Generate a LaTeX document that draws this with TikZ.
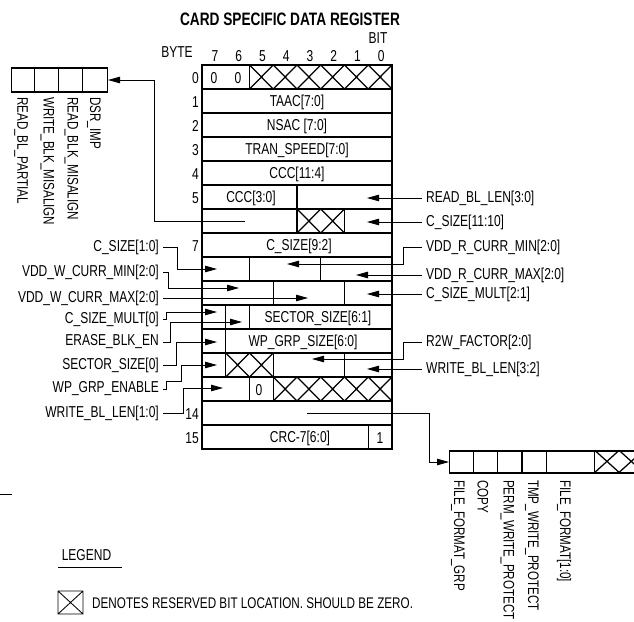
\documentclass[tikz,border=0pt]{standalone}
\usepackage{fontspec}
\setmainfont{Liberation Sans}[FakeStretch=0.76]
\usetikzlibrary{arrows.meta,positioning,calc}

\tikzset{
  txt/.style={font=\fontsize{15.8}{16}\selectfont,inner sep=0pt},
  llbl/.style={txt,anchor=east,inner xsep=4pt},
  rlbl/.style={txt,anchor=west,inner xsep=4pt},
  vlbl/.style={txt,font=\fontsize{15.3}{16}\selectfont,rotate=-90,anchor=west},
  reg/.style={line width=1.25pt},
  wire/.style={line width=0.85pt,-{Triangle[length=12pt,width=6.5pt]}}
}

\begin{document}
\begin{tikzpicture}[x=1pt,y=-1pt]
\useasboundingbox (0,0) rectangle (634,621);
% header
\node[txt,font=\fontsize{18}{18}\selectfont\bfseries] (title) at (290,19) {CARD SPECIFIC DATA REGISTER};
\node[txt] (bitlbl) at (378,38) {BIT}; \node[txt] (bytelbl) at (177,52) {BYTE};
\foreach \b [count=\k from 0] in {7,6,...,0} \node[txt] (bit\b) at (215+23.75*\k,56) {\b};
% register
\draw[reg] (202,65) rectangle (392,449);
\foreach \r in {1,...,15} \draw[reg] (202,65+24*\r) -- (392,65+24*\r);
\foreach \r/\k in {0/2,5/4,6/4,6/6,8/2,8/5,9/3,9/6,10/1,10/2,11/1,12/1,12/3,12/6,13/2,13/3,15/7}
  \draw[reg] (202+23.75*\k,65+24*\r) -- ++(0,24);
\foreach \r/\k in {0/2,0/3,0/4,0/5,0/6,0/7,6/4,6/5,12/1,12/2,13/3,13/4,13/5,13/6,13/7}
  \draw[reg] (202+23.75*\k,65+24*\r) -- ++(23.75,24) ++(-23.75,0) -- ++(23.75,-24);
\foreach \r in {0,1,2,3,4,5,7,14,15} \node[txt,anchor=east] (byte\r) at (199,78+24*\r) {\r};
% fields
\node[txt] (zero7) at (214,78) {0}; \node[txt] (zero6) at (238,78) {0};
\node[txt] (taac) at (297,102) {TAAC[7:0]};
\node[txt] (nsac) at (297,126) {NSAC [7:0]};
\node[txt] (tran) at (297,150) {TRAN\_SPEED[7:0]};
\node[txt] (ccchi) at (297,174) {CCC[11:4]};
\node[txt] (ccclo) at (251,198) {CCC[3:0]};
\node[txt] (csize) at (299,246) {C\_SIZE[9:2]};
\node[txt] (secsize) at (318,318) {SECTOR\_SIZE[6:1]};
\node[txt] (wpsize) at (303,342) {WP\_GRP\_SIZE[6:0]};
\node[txt] (wbpart) at (259,390) {0};
\node[txt] (crc) at (300,438) {CRC-7[6:0]};
\node[txt] (stopbit) at (380,438) {1};
% right side
\node[rlbl] (rbl) at (422,198) {READ\_BL\_LEN[3:0]}; \coordinate (rbl-in) at (367,198);
\node[rlbl] (cshi) at (422,222) {C\_SIZE[11:10]}; \coordinate (cshi-in) at (367,222);
\node[rlbl] (vrmin) at (422,247) {VDD\_R\_CURR\_MIN[2:0]}; \coordinate (vrmin-in) at (287,264);
\node[rlbl] (vrmax) at (422,275) {VDD\_R\_CURR\_MAX[2:0]}; \coordinate (vrmax-in) at (356,275);
\node[rlbl] (csmhi) at (422,294) {C\_SIZE\_MULT[2:1]}; \coordinate (csmhi-in) at (367,294);
\node[rlbl] (r2w) at (422,342) {R2W\_FACTOR[2:0]}; \coordinate (r2w-in) at (312,359);
\node[rlbl] (wblhi) at (422,369) {WRITE\_BL\_LEN[3:2]}; \coordinate (wblhi-in) at (367,369);
\draw[wire] (rbl.west) -- (rbl-in); \draw[wire] (cshi.west) -- (cshi-in);
\draw[wire] (vrmin.west) -- ++(-19,0) |- (vrmin-in); \draw[wire] (vrmax.west) -- (vrmax-in);
\draw[wire] (csmhi.west) -- (csmhi-in);
\draw[wire] (r2w.west) -- ++(-19,0) |- (r2w-in); \draw[wire] (wblhi.west) -- (wblhi-in);
% left side
\node[llbl] (cslo) at (163,247) {C\_SIZE[1:0]}; \coordinate (cslo-in) at (217,269);
\node[llbl] (vwmin) at (163,272) {VDD\_W\_CURR\_MIN[2:0]}; \coordinate (vwmin-in) at (239,288);
\node[llbl] (vwmax) at (163,298) {VDD\_W\_CURR\_MAX[2:0]}; \coordinate (vwmax-in) at (308,298);
\node[llbl] (csmlo) at (163,319) {C\_SIZE\_MULT[0]}; \coordinate (csmlo-in) at (217,312);
\node[llbl] (erase) at (163,342) {ERASE\_BLK\_EN}; \coordinate (erase-in) at (242,322);
\node[llbl] (sslo) at (163,365) {SECTOR\_SIZE[0]}; \coordinate (sslo-in) at (217,342);
\node[llbl] (wpen) at (163,389) {WP\_GRP\_ENABLE}; \coordinate (wpen-in) at (217,365);
\node[llbl] (wbllo) at (163,413) {WRITE\_BL\_LEN[1:0]}; \coordinate (wbllo-in) at (223,388);
\draw[wire] (cslo.east) -- ++(14,0) |- (cslo-in);
\draw[wire] (vwmin.east) -- ++(5,0) |- (vwmin-in);
\draw[wire] (vwmax.east) -- (vwmax-in);
\draw[wire] (csmlo.east) -- ++(3,0) |- (csmlo-in);
\draw[wire] (erase.east) -- ++(7,0) |- (erase-in);
\draw[wire] (sslo.east) -- ++(13,0) |- (sslo-in);
\draw[wire] (wpen.east) -- ++(3,0) -- ++(0,-8) -- ++(15,0) |- (wpen-in);
\draw[wire] (wbllo.east) -- ++(20,0) |- (wbllo-in);
% byte 6 upper bits
\node[draw,reg,minimum width=96,minimum height=24,inner sep=0,anchor=east] (dbox) at (108,80) {};
\foreach \i in {1,2,3} \draw[reg] ($(dbox.north west)+(24*\i,0)$) -- ++(0,24);
\node[vlbl] (rbpart) at (21,97) {READ\_BL\_PARTIAL};
\node[vlbl] (wbmis) at (47.5,97) {WRITE\_BLK\_MISALIGN};
\node[vlbl] (rbmis) at (71.5,97) {READ\_BLK\_MISALIGN};
\node[vlbl] (dsrimp) at (94,97) {DSR\_IMP};
\coordinate (dsr-out) at (245,221);
\draw[wire] (dsr-out) -| ++(-91,-141) -- (dbox.east);
% byte 14
\node[draw,reg,minimum width=194.4,minimum height=22,inner sep=0,anchor=west] (fbox) at (449,462) {};
\foreach \i in {1,2,3,4,6} \draw[reg] ($(fbox.north west)+(24.3*\i,0)$) -- ++(0,22);
\foreach \i in {6,7} \draw[reg] ($(fbox.north west)+(24.3*\i,0)$) -- ++(24.3,22) ++(-24.3,0) -- ++(24.3,-22);
\node[vlbl] (ffgrp) at (458,480) {FILE\_FORMAT\_GRP};
\node[vlbl] (copy) at (483,480) {COPY};
\node[vlbl] (permwp) at (507.5,480) {PERM\_WRITE\_PROTECT};
\node[vlbl] (tmpwp) at (532,480) {TMP\_WRITE\_PROTECT};
\node[vlbl] (ffmt) at (564,480) {FILE\_FORMAT[1:0]};
\coordinate (ff-out) at (307,413);
\draw[wire] (ff-out) -| ++(122,49) -- (fbox.west);
% legend
\draw[line width=0.85pt] (0,494) -- (12,494);
\node[txt] (legend) at (86.5,555) {LEGEND};
\draw[line width=0.85pt] (58,567) -- (122,567);
\draw[line width=0.85pt] (58,591) rectangle (83,614) (58,591) -- (83,614) (58,614) -- (83,591);
\node[txt,anchor=west,font=\fontsize{15.4}{16}\selectfont] (note) at (92,603) {DENOTES RESERVED BIT LOCATION. SHOULD BE ZERO.};
\end{tikzpicture}
\end{document}
